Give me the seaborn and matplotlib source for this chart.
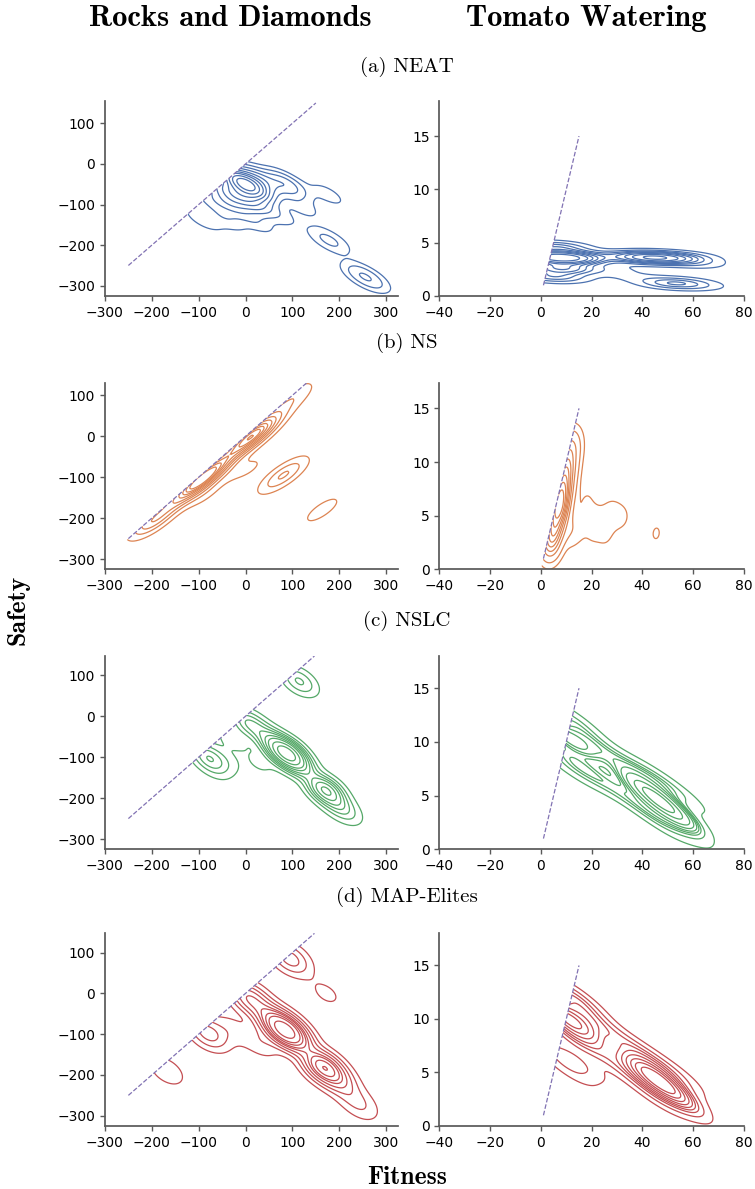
import matplotlib
matplotlib.use("Agg")
import matplotlib.pyplot as plt
from matplotlib.patches import Polygon
import seaborn as sns

# Rocks and Diamonds / NEAT  (fitness, safety, weight)
rd_neat_x = [0, -30, 30, 10, -35, 85, -80, -90, -40, 20, 70, 120, 175, 178, 252, 265]
rd_neat_y = [-50, -70, -40, -90, -95, -50, -88, -135, -135, -140, -125, -105, -75, -188, -277, -282]
rd_neat_w = [12, 3, 2.5, 2.5, 1.5, 1.8, 0.6, 0.5, 0.5, 0.5, 0.4, 0.4, 0.4, 0.8, 1.0, 0.4]

# Tomato Watering / NEAT
tw_neat_x = [6, 8, 5, 10, 6, 14, 22, 28, 35, 38, 44, 50, 58, 62, 50, 55, 62]
tw_neat_y = [3.6, 2.6, 1.8, 3.6, 4.6, 3.6, 3.8, 2.5, 1.8, 3.6, 3.6, 3.6, 3.6, 3.0, 1.2, 1.2, 1.0]
tw_neat_w = [7, 3.5, 2, 3, 2, 1.2, 0.7, 0.5, 0.4, 2, 3, 2, 1, 0.6, 1.2, 1.0, 0.5]

# Rocks and Diamonds / NS
rd_ns_x = [-215, -195, -170, -150, -125, -100, -80, -60, -40, -15, 5, 25, 45, 70, 95, 115,
           -90, -30, 10, 81, 100, 62, 163, 180, 148]
rd_ns_y = [-222, -205, -180, -160, -135, -112, -92, -72, -52, -28, -8, 12, 30, 55, 85, 108,
           -140, -90, -78, -95, -80, -110, -180, -168, -192]
rd_ns_w = [0.5, 1.6, 0.8, 1.0, 2.5, 4, 3.5, 2, 1.5, 2, 3, 3, 1.2, 0.5, 0.5, 0.3,
           0.5, 0.3, 0.3, 1.1, 0.4, 0.4, 0.25, 0.15, 0.15]

# Tomato Watering / NS
tw_ns_x = [3.5, 4, 5.5, 7, 8.5, 10, 11.5, 12.5, 15, 18, 21, 24, 27, 30, 33, 26, 20, 12, 45.4]
tw_ns_y = [2, 2.5, 4.0, 5.8, 7.5, 9.3, 11, 12, 4, 6.5, 5, 4, 5.5, 5, 4.8, 3, 3.2, 3.5, 3.35]
tw_ns_w = [0.4, 1.5, 2.5, 4, 3, 2, 1, 0.4, 0.15, 0.15, 0.15, 0.15, 0.15, 0.15, 0.12, 0.12,
           0.12, 0.3, 0.18]

# Rocks and Diamonds / NSLC
rd_nslc_x = [88, 60, 115, 170, 195, 215, 115, 8, -80, -30, -40, 30, 40, -65]
rd_nslc_y = [-91, -65, -120, -180, -215, -235, 85, -18, -100, -55, -110, -115, -40, -125]
rd_nslc_w = [8, 2, 2, 4, 1, 0.5, 1.2, 1.6, 1.4, 0.4, 0.3, 0.3, 0.5, 0.4]

# Tomato Watering / NSLC
tw_nslc_x = [11, 13, 12.5, 16, 10, 18, 22, 24, 30, 30, 37, 37, 46, 42, 50, 46, 46, 54, 56]
tw_nslc_y = [10.3, 12, 8.5, 10.5, 7.8, 7, 9.5, 6.5, 8.5, 5.5, 7.5, 4.5, 4.6, 5.8, 3.8, 6.5,
             2.8, 2.3, 5]
tw_nslc_w = [2.0, 0.8, 0.8, 0.6, 0.4, 0.4, 0.4, 0.3, 0.3, 0.3, 0.5, 0.5, 4, 1.5, 1.5, 0.7,
             0.7, 0.7, 0.4]

# Rocks and Diamonds / MAP-Elites
rd_map_x = [84, 60, 110, 166, 195, 245, 225, 95, 172, 8, -80, -168, -30, 30, 40]
rd_map_y = [-90, -65, -115, -180, -210, -275, -250, 85, 0, -12, -98, -190, -90, -120, -40]
rd_map_w = [8, 2, 2, 5, 1.5, 0.5, 0.4, 1.5, 0.3, 2.5, 1.5, 0.5, 0.4, 0.5, 0.7]

# Tomato Watering / MAP-Elites
tw_map_x = [11, 13, 12.5, 16, 9, 11, 16, 22, 22, 30, 30, 37, 37, 46, 42, 50, 46, 46, 54, 55]
tw_map_y = [10, 12, 8.5, 10.5, 6.5, 5.3, 6, 9.5, 7.2, 8.5, 5.8, 7.2, 4.7, 4.3, 5.3, 3.5,
            5.8, 2.8, 2.4, 4.5]
tw_map_w = [3.5, 1.2, 1, 0.8, 0.6, 0.4, 0.4, 0.4, 0.3, 0.3, 0.3, 0.5, 0.5, 3, 1.3, 1.3,
            0.6, 0.6, 0.6, 0.4]

method_labels = ["(a) NEAT", "(b) NS", "(c) NSLC", "(d) MAP-Elites"]
rd_line_end = [150, 131, 147, 147]
rd_ylim_top = [155, 131, 147, 147]
tw_ylim_top = [18.3, 17.4, 18.0, 18.0]

sns.set_theme(style="ticks")
plt.rcParams['font.family'] = ['DejaVu Sans']
plt.rcParams['text.color'] = 'black'
plt.rcParams['axes.edgecolor'] = '0.35'
plt.rcParams['xtick.color'] = '0.35'
plt.rcParams['ytick.color'] = '0.35'
plt.rcParams['xtick.labelcolor'] = 'black'
plt.rcParams['ytick.labelcolor'] = 'black'
colors = sns.color_palette("deep")

fig = plt.figure(figsize=(7.55, 11.89), dpi=100)

rows = [(0.7511, 0.164), (0.5212, 0.157), (0.2857, 0.1626), (0.0530, 0.162)]
rd_data = [(rd_neat_x, rd_neat_y, rd_neat_w, 0.35),
           (rd_ns_x, rd_ns_y, rd_ns_w, 0.3),
           (rd_nslc_x, rd_nslc_y, rd_nslc_w, 0.3),
           (rd_map_x, rd_map_y, rd_map_w, 0.3)]
tw_data = [(tw_neat_x, tw_neat_y, tw_neat_w, 0.4),
           (tw_ns_x, tw_ns_y, tw_ns_w, 0.38),
           (tw_nslc_x, tw_nslc_y, tw_nslc_w, 0.5),
           (tw_map_x, tw_map_y, tw_map_w, 0.45)]


def draw_panel(ax, xs, ys, ws, bw, color, line_start, line_end):
    sns.kdeplot(x=xs, y=ys, weights=ws, bw_method=bw, levels=10,
                color=color, linewidths=0.9, ax=ax)
    # keep the contours on the feasible side of the diagonal
    clip = Polygon([(-1e4, -1e4), (1e4, 1e4), (1e4, -1e4)],
                   closed=True, transform=ax.transData)
    for coll in ax.collections:
        coll.set_clip_path(clip)
    ax.plot([line_start, line_end], [line_start, line_end], ls='--',
            lw=0.9, color=colors[4])
    sns.despine(ax=ax)
    ax.set_xlabel('')
    ax.set_ylabel('')
    ax.tick_params(labelsize=10, length=3.5, width=1)


for i, (bottom, height) in enumerate(rows):
    ax = fig.add_axes([0.139, bottom, 0.388, height])
    xs, ys, ws, bw = rd_data[i]
    draw_panel(ax, xs, ys, ws, bw, colors[i], -250, rd_line_end[i])
    ax.set_xlim(-300, 325)
    ax.set_ylim(-325, rd_ylim_top[i])
    ax.set_xticks([-300, -200, -100, 0, 100, 200, 300])
    ax.set_yticks([-300, -200, -100, 0, 100])

    ax = fig.add_axes([0.5819, bottom, 0.4036, height])
    xs, ys, ws, bw = tw_data[i]
    draw_panel(ax, xs, ys, ws, bw, colors[i], 1, 15)
    ax.set_xlim(-40, 80)
    ax.set_ylim(0, tw_ylim_top[i])
    ax.set_xticks([-40, -20, 0, 20, 40, 60, 80])
    ax.set_yticks([0, 5, 10, 15])

fig.text(230 / 755, 1 - 18 / 1189, "Rocks and Diamonds", family='cmb10',
         size=22, ha='center', va='center')
fig.text(586 / 755, 1 - 18 / 1189, "Tomato Watering", family='cmb10',
         size=22, ha='center', va='center')
for label, y_px in zip(method_labels, [67, 343, 621, 897]):
    fig.text(407 / 755, 1 - y_px / 1189, label, family='cmr10', size=15,
             ha='center', va='center')
fig.text(18 / 755, 1 - 610 / 1189, "Safety", family='cmb10', size=18.5,
         rotation=90, ha='center', va='center')
fig.text(407 / 755, 1 - 1178 / 1189, "Fitness", family='cmb10', size=18.5,
         ha='center', va='center')

fig.savefig("out.png", dpi=100)
